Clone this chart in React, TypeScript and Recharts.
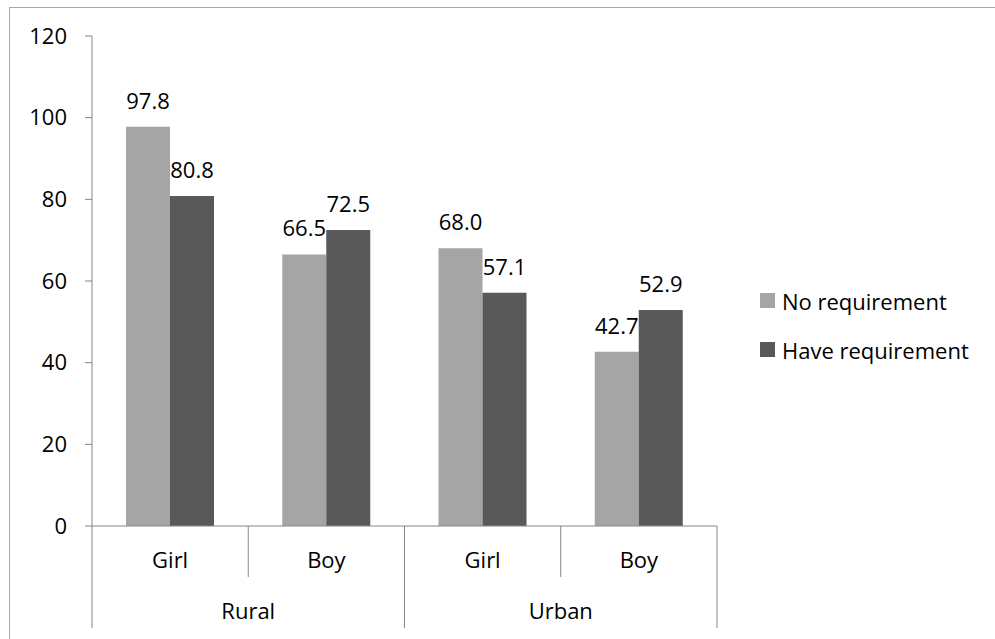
import React from "react";
import { BarChart, Bar, XAxis, YAxis, LabelList } from "recharts";

// Category axis: inner level (sex) and outer level (area)
const categories = ["Girl", "Boy", "Girl", "Boy"];
const groups = ["Rural", "Rural", "Urban", "Urban"];

// Series values
const noRequirement = [97.8, 66.5, 68.0, 42.7];
const haveRequirement = [80.8, 72.5, 57.1, 52.9];

// Value axis ticks
const yTicks = [0, 20, 40, 60, 80, 100, 120];

const seriesNames = ["No requirement", "Have requirement"];
const seriesColors = ["#A5A5A5", "#595959"];

const data = categories.map((c, i) => ({
  id: `${groups[i]}-${c}`,
  sub: c,
  group: groups[i],
  noReq: noRequirement[i],
  haveReq: haveRequirement[i],
}));

const FONT = "'Open Sans', sans-serif";
const AXIS = "#868686";

const W = 995;
const H = 639;
const MARGIN = { top: 36, right: 278, left: 32, bottom: 53 };
const Y_AXIS_W = 60;
const X_AXIS_H = 60;
const PLOT_W = W - MARGIN.left - MARGIN.right - Y_AXIS_W;
const BAND = PLOT_W / categories.length;

// Two-level category tick: sex label, area label and the separators
const CategoryTick = (props: any) => {
  const { x, y, index } = props;
  const half = BAND / 2;
  const groupStart = index % 2 === 0;
  const last = index === categories.length - 1;
  return (
    <g>
      <line x1={x - half} x2={x - half} y1={y} y2={y + (groupStart ? 102 : 51)} stroke={AXIS} strokeWidth={1} />
      {last && <line x1={x + half} x2={x + half} y1={y} y2={y + 102} stroke={AXIS} strokeWidth={1} />}
      <text x={x} y={y + 42} textAnchor="middle" fill="#000" fontSize={22} fontFamily={FONT}>
        {data[index].sub}
      </text>
      {groupStart && (
        <text x={x + half} y={y + 93} textAnchor="middle" fill="#000" fontSize={22} fontFamily={FONT}>
          {data[index].group}
        </text>
      )}
    </g>
  );
};

const LegendBox = () => (
  <div
    style={{
      position: "absolute",
      left: 760,
      top: 276,
      fontFamily: FONT,
      fontSize: 22,
      color: "#000",
    }}
  >
    {seriesNames.map((n, i) => (
      <div key={n} style={{ display: "flex", alignItems: "center", height: 49 }}>
        <div style={{ width: 15, height: 15, background: seriesColors[i], marginRight: 7 }} />
        <span style={{ lineHeight: "22px", whiteSpace: "nowrap" }}>{n}</span>
      </div>
    ))}
  </div>
);

export default function App() {
  return (
    <div
      style={{
        position: "absolute",
        left: 0,
        top: 0,
        width: W,
        height: H,
        overflow: "hidden",
        background: "#fff",
        fontFamily: FONT,
      }}
    >
      <div
        style={{
          position: "absolute",
          left: 9,
          top: 7,
          width: 1100,
          height: 800,
          borderTop: "1px solid #A9A9A9",
          borderLeft: "1px solid #A9A9A9",
        }}
      />
      <div style={{ position: "absolute", left: 0, top: 0 }}>
        <BarChart
          width={W}
          height={H}
          data={data}
          margin={MARGIN}
          barCategoryGap={34}
          barGap={0}
        >
          <XAxis
            dataKey="id"
            interval={0}
            height={X_AXIS_H}
            axisLine={{ stroke: AXIS }}
            tickLine={false}
            tickSize={0}
            tickMargin={0}
            tick={<CategoryTick />}
          />
          <YAxis
            width={Y_AXIS_W}
            domain={[0, 120]}
            ticks={yTicks}
            interval={0}
            axisLine={{ stroke: AXIS }}
            tickLine={{ stroke: AXIS }}
            tickSize={7}
            tickMargin={18}
            tick={{ fill: "#000", fontSize: 22, fontFamily: FONT }}
          />
          <Bar dataKey="noReq" name={seriesNames[0]} fill={seriesColors[0]} isAnimationActive={false}>
            <LabelList
              dataKey="noReq"
              position="top"
              offset={18}
              formatter={(v: any) => Number(v).toFixed(1)}
              style={{ fill: "#000", fontSize: 22, fontFamily: FONT }}
            />
          </Bar>
          <Bar dataKey="haveReq" name={seriesNames[1]} fill={seriesColors[1]} isAnimationActive={false}>
            <LabelList
              dataKey="haveReq"
              position="top"
              offset={18}
              formatter={(v: any) => Number(v).toFixed(1)}
              style={{ fill: "#000", fontSize: 22, fontFamily: FONT }}
            />
          </Bar>
        </BarChart>
      </div>
      <LegendBox />
    </div>
  );
}
